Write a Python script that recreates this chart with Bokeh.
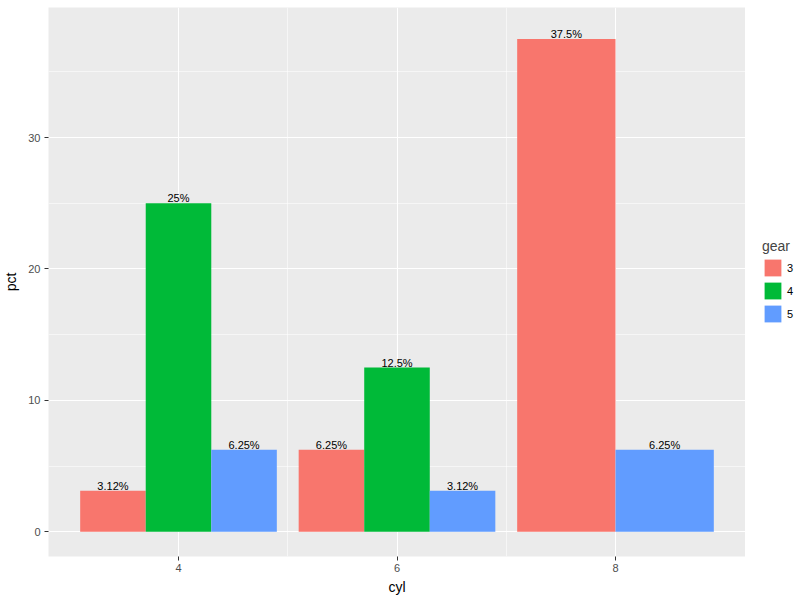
from bokeh.plotting import figure
from bokeh.layouts import row
from bokeh.models import ColumnDataSource, FixedTicker, Legend, LegendItem, Range1d
from bokeh.embed import file_html
from bokeh.resources import INLINE
from bokeh.core.properties import value

# ---- data ----
cyl_values = [4, 6, 8]
gear_levels = ["3", "4", "5"]
gear_colors = ["#F8766D", "#00BA38", "#619CFF"]
# pct per (cyl, gear); None = absent
pct_gear3 = [3.125, 6.25, 37.5]
pct_gear4 = [25.0, 12.5, None]
pct_gear5 = [6.25, 3.125, 6.25]
x_ticks = [4, 6, 8]
y_ticks = [0, 10, 20, 30]

series = {"3": pct_gear3, "4": pct_gear4, "5": pct_gear5}

FONT = "Liberation Sans"
total_width = 1.8  # 0.9 * resolution (2)

# dodge positions
rows = {g: {"x": [], "w": [], "top": [], "label": []} for g in gear_levels}
for i, c in enumerate(cyl_values):
    present = [g for g in gear_levels if series[g][i] is not None]
    n = len(present)
    w = total_width / n
    for k, g in enumerate(present):
        xc = c - total_width / 2 + w * (k + 0.5)
        v = series[g][i]
        rows[g]["x"].append(xc)
        rows[g]["w"].append(w)
        rows[g]["top"].append(v)
        rows[g]["label"].append(f"{round(v, 2):g}%")

p = figure(width=745, height=600, output_backend="svg", toolbar_location=None,
           x_range=Range1d(2.81, 9.19), y_range=Range1d(-1.88, 39.9),
           min_border_left=48, min_border_right=0, min_border_top=7, min_border_bottom=44)
p.background_fill_color = "#EBEBEB"
p.border_fill_color = "white"
p.outline_line_color = None

for g, col in zip(gear_levels, gear_colors):
    src = ColumnDataSource(dict(x=rows[g]["x"], w=rows[g]["w"], top=rows[g]["top"],
                                label=rows[g]["label"]))
    p.vbar(x="x", width="w", top="top", bottom=0, source=src,
           fill_color=col, line_color=None)
    p.text(x="x", y="top", text="label", source=src, text_align="center",
           text_baseline="bottom", text_font=value(FONT), text_font_size="11px",
           text_color="black", y_offset=1)

# grids
p.xgrid.ticker = FixedTicker(ticks=x_ticks, minor_ticks=[5, 7])
p.ygrid.ticker = FixedTicker(ticks=y_ticks, minor_ticks=[5, 15, 25, 35])
for gr in (p.xgrid, p.ygrid):
    gr.grid_line_color = "white"
    gr.grid_line_width = 1.1
    gr.minor_grid_line_color = "white"
    gr.minor_grid_line_width = 0.55

# axes
p.xaxis.ticker = FixedTicker(ticks=x_ticks)
p.yaxis.ticker = FixedTicker(ticks=y_ticks)
p.xaxis.axis_label = "cyl"
p.yaxis.axis_label = "pct"
for ax in (p.xaxis, p.yaxis):
    ax.axis_line_color = None
    ax.major_tick_line_color = "#333333"
    ax.major_tick_out = 4
    ax.major_tick_in = 0
    ax.minor_tick_out = 0
    ax.minor_tick_in = 0
    ax.major_label_text_font = FONT
    ax.major_label_text_font_size = "11px"
    ax.major_label_text_color = "#4D4D4D"
    ax.axis_label_text_font = FONT
    ax.axis_label_text_font_size = "14px"
    ax.axis_label_text_font_style = "normal"
    ax.axis_label_text_color = "black"
p.xaxis.major_label_standoff = 3
p.xaxis.axis_label_standoff = 4
p.yaxis.major_label_standoff = 4
p.yaxis.axis_label_standoff = 6

# legend panel (separate figure to the right); proxy bars of zero height,
# placed outside this panel's visible range, only to carry the legend swatches
lf = figure(width=55, height=600, output_backend="svg", toolbar_location=None,
            x_range=Range1d(0, 1), y_range=Range1d(0, 1),
            min_border=0, min_border_left=0, min_border_right=0,
            min_border_top=0, min_border_bottom=0)
lf.axis.visible = False
lf.grid.visible = False
lf.outline_line_color = None
lf.background_fill_color = "white"
lf.border_fill_color = "white"
leg_renderers = []
for g, col in zip(gear_levels, gear_colors):
    r = lf.vbar(x=[float(g)], width=0.5, top=[0.0], bottom=0.0, fill_color=col, line_color=None)
    leg_renderers.append(r)

legend = Legend(items=[LegendItem(label=g, renderers=[r]) for g, r in zip(gear_levels, leg_renderers)],
                title="gear", location=(17, 232))
legend.title_text_font = FONT
legend.title_text_font_size = "14px"
legend.title_text_font_style = "normal"
legend.title_standoff = 3
legend.label_text_font = FONT
legend.label_text_font_size = "11px"
legend.label_text_color = "black"
legend.glyph_width = 21
legend.glyph_height = 21
legend.spacing = 2
legend.padding = 0
legend.margin = 0
legend.label_standoff = 4
legend.border_line_color = None
legend.background_fill_alpha = 0
lf.add_layout(legend, "center")

layout = row(p, lf, spacing=0)
open("out.html", "w").write(file_html(layout, INLINE))
